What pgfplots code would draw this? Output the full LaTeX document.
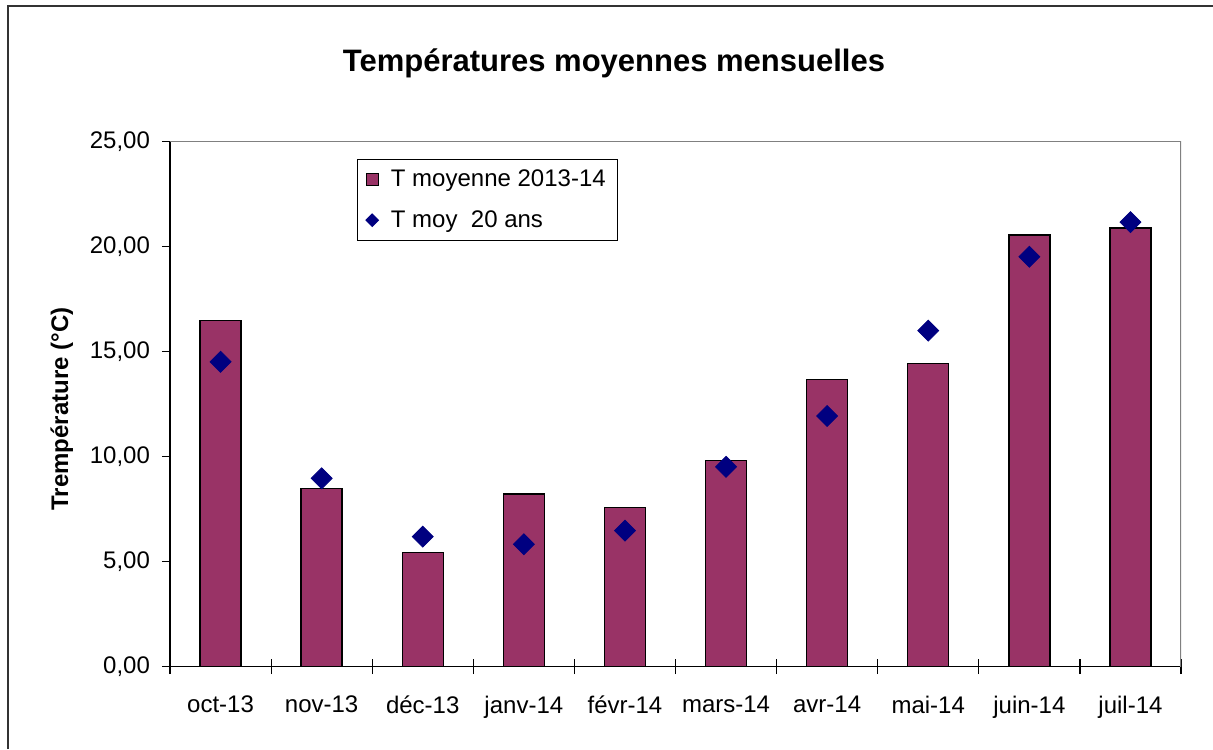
\documentclass[border=0pt]{standalone}
\usepackage{pgfplots}
\pgfplotsset{compat=1.18}
\usepackage{fontspec}
\setmainfont{Liberation Sans}
\definecolor{barc}{HTML}{993366}
\definecolor{diac}{HTML}{000080}
\definecolor{frameg}{HTML}{808080}

\begin{document}
\begin{tikzpicture}[x=1pt,y=1pt]
\begin{axis}[
  at={(0pt,0pt)}, anchor=south west,
  scale only axis, width=505.5pt, height=262.5pt,
  xmin=-0.5, xmax=9.5, ymin=0, ymax=25,
  axis x line*=bottom, axis y line*=left,
  axis line style={black, line width=0.6pt},
  xtick={0,...,9},
  xticklabels={oct-13,nov-13,déc-13,janv-14,févr-14,mars-14,avr-14,mai-14,juin-14,juil-14},
  major x tick style={draw=none},
  minor xtick={-0.5,0.5,...,9.5},
  minor tick length=7.5pt,
  minor x tick style={black, line width=0.6pt, yshift=3.75pt},
  ytick={0,5,...,25},
  major tick length=4pt,
  tick align=outside,
  y tick style={black, line width=0.6pt},
  tick label style={font=\fontsize{12}{14}\selectfont},
  xticklabel style={yshift=-7pt},
  /pgf/number format/assume math mode=true,
  yticklabel style={xshift=-2.5pt, /pgf/number format/.cd, fixed, fixed zerofill, precision=2, use comma},
  legend style={at={(0.185,0.967)}, anchor=north west, draw=black, line width=0.5pt,
    font=\fontsize{12}{14}\selectfont, cells={anchor=west}, row sep=6.5pt, column sep=4pt,
    inner xsep=4pt, inner ysep=3pt},
]
\draw[frameg, line width=0.8pt] (rel axis cs:0,1) -- (rel axis cs:1,1) -- (rel axis cs:1,0);
\addplot[ybar, bar width=0.405, fill=barc, draw=black, line width=0.7pt,
  legend image code/.code={\draw[fill=barc, draw=black, line width=0.6pt] (0pt,-3pt) rectangle (6pt,3pt);}]
  coordinates {(0,16.48) (1,8.49) (2,5.44) (3,8.22) (4,7.57) (5,9.81) (6,13.68) (7,14.43) (8,20.56) (9,20.89)};
\addlegendentry{T moyenne 2013-14}
\addplot[only marks, mark=square*, mark size=3.7pt, color=diac, mark options={rotate=45, fill=diac, draw=diac},
  legend image code/.code={\path[fill=diac] (3pt,3.1pt) -- (6.1pt,0pt) -- (3pt,-3.1pt) -- (-0.1pt,0pt) -- cycle;}]
  coordinates {(0,14.52) (1,8.97) (2,6.19) (3,5.83) (4,6.48) (5,9.52) (6,11.94) (7,16.0) (8,19.52) (9,21.17)};
\addlegendentry{T moy\ \ 20 ans}
\end{axis}
\node[anchor=base, font=\bfseries\fontsize{15.5}{18}\selectfont] at (222,297.5) {Températures moyennes mensuelles};
\node[rotate=90, anchor=base, font=\bfseries\fontsize{12}{14}\selectfont] at (-51,128.85) {Trempérature (°C)};
\draw[line width=1pt, black!80] (-81,-41.15) -- (-81,330.35) -- (521.5,330.35);
\pgfresetboundingbox
\useasboundingbox (-85,-41.15) rectangle (521.5,333.35);
\end{tikzpicture}
\end{document}
